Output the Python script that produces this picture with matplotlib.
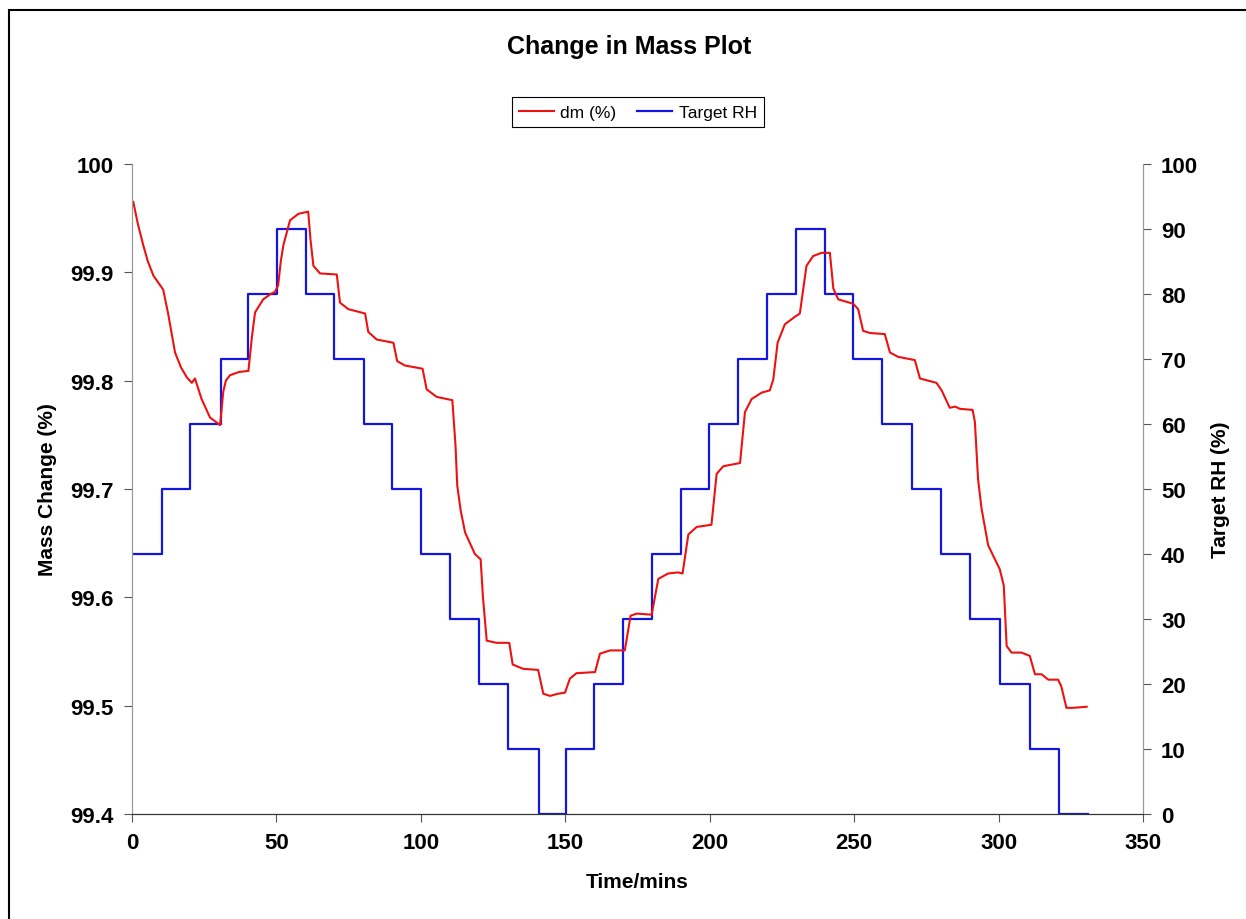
import matplotlib
matplotlib.use("Agg")
import matplotlib.pyplot as plt
from matplotlib.patches import Rectangle

plt.rcParams['font.family'] = ['Liberation Sans', 'DejaVu Sans']

# dm (%) readings
dm_time = [0.45, 2.0, 3.9, 5.5, 7.4, 9.5, 10.8, 12.5, 14.9, 17.0, 19.0, 20.7, 21.8, 24.1, 27.0,
           29.0, 30.5, 31.6, 32.5, 33.9, 37.0, 40.3, 41.5, 42.6, 45.4, 48.0, 49.5, 50.6, 51.5,
           52.4, 54.7, 57.6, 61.0, 61.8, 62.8, 65.1, 70.9, 72.0, 74.9, 80.7, 81.8, 84.7, 90.5,
           91.8, 94.5, 100.6, 102.0, 105.5, 110.9, 112.0, 112.6, 113.8, 115.3, 118.7, 120.7,
           121.5, 122.8, 126.2, 130.6, 131.8, 135.4, 140.6, 142.4, 144.7, 147.5, 149.9, 151.6,
           153.9, 160.3, 162.0, 165.5, 170.6, 172.6, 174.7, 179.9, 182.2, 185.6, 189.0, 190.6,
           192.6, 195.5, 200.6, 202.4, 204.7, 210.5, 212.2, 214.5, 218.0, 220.8, 222.0, 223.5,
           226.0, 229.5, 231.2, 233.5, 235.8, 238.7, 241.6, 242.8, 244.5, 249.7, 251.4, 253.1,
           255.5, 260.6, 262.4, 265.2, 271.0, 272.8, 278.5, 280.3, 283.1, 285.0, 286.6, 291.0,
           291.8, 292.9, 294.1, 296.4, 300.4, 301.8, 302.8, 304.5, 307.9, 310.8, 312.6, 314.9,
           317.2, 320.6, 321.7, 323.5, 325.8, 330.5]
dm_value = [99.965, 99.945, 99.925, 99.910, 99.897, 99.889, 99.884, 99.862, 99.826, 99.812,
            99.803, 99.798, 99.802, 99.783, 99.766, 99.762, 99.759, 99.790, 99.800, 99.805,
            99.808, 99.809, 99.840, 99.863, 99.875, 99.880, 99.882, 99.888, 99.910, 99.925,
            99.948, 99.954, 99.956, 99.930, 99.906, 99.899, 99.898, 99.872, 99.866, 99.862,
            99.845, 99.838, 99.835, 99.818, 99.814, 99.811, 99.792, 99.785, 99.782, 99.740,
            99.703, 99.680, 99.660, 99.640, 99.635, 99.600, 99.560, 99.558, 99.558, 99.538,
            99.534, 99.533, 99.511, 99.509, 99.511, 99.512, 99.525, 99.530, 99.531, 99.548,
            99.551, 99.551, 99.583, 99.585, 99.584, 99.617, 99.622, 99.623, 99.622, 99.658,
            99.665, 99.667, 99.714, 99.721, 99.724, 99.771, 99.783, 99.789, 99.791, 99.801,
            99.835, 99.852, 99.859, 99.862, 99.906, 99.915, 99.918, 99.918, 99.885, 99.875,
            99.871, 99.866, 99.846, 99.844, 99.843, 99.826, 99.822, 99.819, 99.802, 99.798,
            99.791, 99.775, 99.776, 99.774, 99.773, 99.762, 99.709, 99.682, 99.648, 99.626,
            99.611, 99.555, 99.549, 99.549, 99.546, 99.529, 99.529, 99.524, 99.524, 99.518,
            99.498, 99.498, 99.499]

# target RH steps (value holds until next time)
rh_time = [0.5, 10.4, 20.1, 30.8, 40.1, 50.2, 60.2, 70.0, 80.3, 90.0, 100.0, 110.0, 120.0,
           130.0, 141.0, 150.3, 160.0, 170.0, 180.0, 190.0, 199.7, 209.8, 219.8, 229.8, 240.0,
           249.6, 259.6, 270.0, 280.0, 290.0, 300.5, 310.8, 321.0, 331.0]
rh_value = [40, 50, 60, 70, 80, 90, 80, 70, 60, 50, 40, 30, 20, 10, 0, 10, 20, 30, 40, 50, 60,
            70, 80, 90, 80, 70, 60, 50, 40, 30, 20, 10, 0, 0]

left_ticks = [99.4, 99.5, 99.6, 99.7, 99.8, 99.9, 100.0]
left_labels = ['99.4', '99.5', '99.6', '99.7', '99.8', '99.9', '100']
right_ticks = list(range(0, 101, 10))
x_ticks = list(range(0, 351, 50))

fig = plt.figure(figsize=(12.46, 9.2), dpi=100)
ax = fig.add_axes([132/1246, 105/920, (1143-132)/1246, (815-165)/920])
ax2 = ax.twinx()

l1, = ax.plot(dm_time, dm_value, color='#ee1111', lw=1.5, label='dm (%)')
l2, = ax2.plot(rh_time, rh_value, color='#1515e0', lw=1.6, drawstyle='steps-post', label='Target RH')

# keep the red curve above the blue one
ax.set_zorder(ax2.get_zorder() + 1)
ax.patch.set_visible(False)

ax.set_xlim(0, 350)
ax.set_ylim(99.4, 100)
ax2.set_ylim(0, 100)
ax.set_xticks(x_ticks)
ax.set_yticks(left_ticks)
ax.set_yticklabels(left_labels)
ax2.set_yticks(right_ticks)

for a in (ax, ax2):
    a.spines['top'].set_visible(False)
    a.spines['left'].set_color('#999999')
    a.spines['right'].set_color('#999999')
    a.spines['bottom'].set_color('#333333')
    a.tick_params(direction='out', length=6, color='#555555', labelsize=16, pad=7)
    for t in a.get_xticklabels() + a.get_yticklabels():
        t.set_fontweight('bold')

ax.set_xlabel('Time/mins', fontsize=15, fontweight='bold', labelpad=14)
ax.set_ylabel('Mass Change (%)', fontsize=15, fontweight='bold', labelpad=10)
ax2.set_ylabel('Target RH (%)', fontsize=15, fontweight='bold', labelpad=9)

fig.text(629/1246, 1 - 47/920, 'Change in Mass Plot', fontsize=18, fontweight='bold',
         ha='center', va='center')

leg = fig.legend([l1, l2], ['dm (%)', 'Target RH'], loc='center', ncol=2,
                 bbox_to_anchor=(638/1246, 1 - 113/920), fontsize=12.5,
                 handlelength=2.0, columnspacing=1.2, handletextpad=0.4,
                 fancybox=False, framealpha=1, edgecolor='black', borderpad=0.4)
leg.get_frame().set_linewidth(0.8)

fig.add_artist(Rectangle((9/1246, -0.1), 1.2, 1.1 - 11/920, transform=fig.transFigure,
                         fill=False, edgecolor='black', lw=1.5))

fig.savefig('out.png', dpi=100)
